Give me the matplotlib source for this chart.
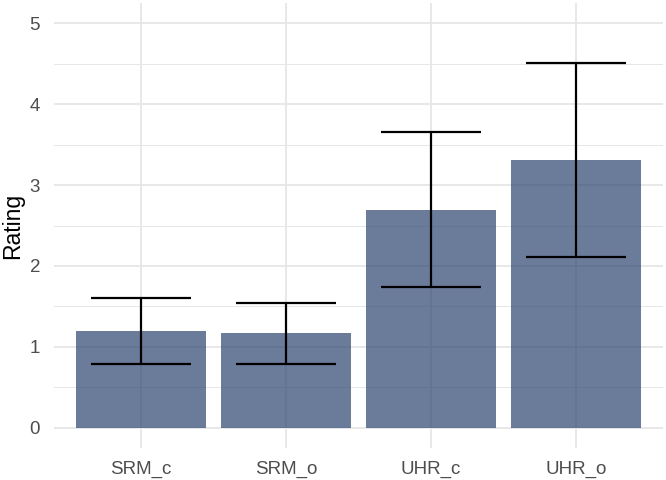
import numpy as np
import matplotlib.pyplot as plt
from matplotlib.ticker import MultipleLocator

conditions = ['SRM_c', 'SRM_o', 'UHR_c', 'UHR_o']
mean_rating = [1.20, 1.17, 2.69, 3.31]
ci_low = [0.79, 0.79, 1.74, 2.11]
ci_high = [1.60, 1.54, 3.65, 4.51]

plt.rcParams['font.family'] = ['Liberation Sans', 'DejaVu Sans']

fig = plt.figure(figsize=(6.66, 4.8), dpi=100)
ax = fig.add_axes([54 / 666, 32 / 480, 609 / 666, 445 / 480])

x = np.arange(1, len(conditions) + 1)
ax.bar(x, mean_rating, width=0.9, color='#2b4570', alpha=0.7, zorder=2)

mean = np.array(mean_rating)
yerr = [mean - np.array(ci_low), np.array(ci_high) - mean]
ax.errorbar(x, mean, yerr=yerr, fmt='none', ecolor='black', elinewidth=1.6,
            capsize=36, capthick=1.6, zorder=3)

ax.set_xlim(0.4, 4.6)
ax.set_ylim(-0.25, 5.25)
ax.set_xticks(x)
ax.set_xticklabels(conditions)
ax.yaxis.set_major_locator(MultipleLocator(1))
ax.yaxis.set_minor_locator(MultipleLocator(0.5))

# ggplot theme_minimal look
for s in ax.spines.values():
    s.set_visible(False)
ax.set_axisbelow(True)
ax.grid(which='major', color='#e6e6e6', linewidth=1.3, zorder=0)
ax.grid(which='minor', axis='y', color='#e6e6e6', linewidth=0.7, zorder=0)
ax.tick_params(which='both', length=0, labelsize=13.5, labelcolor='#4d4d4d')
ax.tick_params(axis='y', pad=10)
ax.tick_params(axis='x', pad=9)

ax.set_ylabel('Rating', fontsize=16.5, labelpad=4)

fig.savefig('out.png', dpi=100)
